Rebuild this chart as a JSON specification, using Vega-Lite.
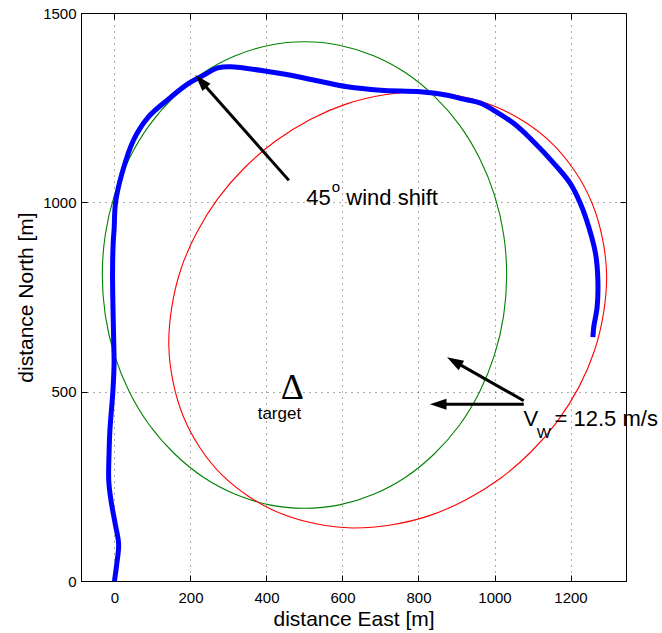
{
  "$schema": "https://vega.github.io/schema/vega-lite/v6.json",
  "width": 545,
  "height": 568,
  "autosize": {"type": "none"},
  "padding": {"left": 81, "top": 13, "right": 36, "bottom": 52},
  "background": "white",
  "config": {
    "view": {"stroke": "#000", "strokeWidth": 1},
    "axis": {
      "labelFont": "Liberation Sans", "labelFontSize": 15, "labelColor": "#000",
      "titleFont": "Liberation Sans", "titleFontSize": 21, "titleFontWeight": "normal", "titleColor": "#000",
      "domainColor": "#000", "tickColor": "#000", "tickSize": -6,
      "gridColor": "#000", "gridDash": [1, 5], "gridOpacity": 0.65
    }
  },
  "datasets": {
    "green": [
      {"i":0,"x":1032,"y":808},{"i":1,"x":1024,"y":915},{"i":2,"x":1000,"y":1019},{"i":3,"x":961,"y":1116},{"i":4,"x":908,"y":1204},{"i":5,"x":842,"y":1280},{"i":6,"x":766,"y":1342},{"i":7,"x":682,"y":1387},{"i":8,"x":592,"y":1415},{"i":9,"x":500,"y":1424},
      {"i":10,"x":408,"y":1415},{"i":11,"x":318,"y":1387},{"i":12,"x":234,"y":1342},{"i":13,"x":158,"y":1280},{"i":14,"x":92,"y":1204},{"i":15,"x":39,"y":1116},{"i":16,"x":0,"y":1019},{"i":17,"x":-24,"y":915},{"i":18,"x":-32,"y":808},
      {"i":19,"x":-24,"y":701},{"i":20,"x":0,"y":597},{"i":21,"x":39,"y":500},{"i":22,"x":92,"y":412},{"i":23,"x":158,"y":336},{"i":24,"x":234,"y":274},{"i":25,"x":318,"y":229},{"i":26,"x":408,"y":201},{"i":27,"x":500,"y":192},
      {"i":28,"x":592,"y":201},{"i":29,"x":682,"y":229},{"i":30,"x":766,"y":274},{"i":31,"x":842,"y":336},{"i":32,"x":908,"y":412},{"i":33,"x":961,"y":500},{"i":34,"x":1000,"y":597},{"i":35,"x":1024,"y":701}
    ],
    "red": [
      {"i":0,"x":1095,"y":340},{"i":1,"x":1165,"y":421},{"i":2,"x":1222,"y":512},{"i":3,"x":1263,"y":608},{"i":4,"x":1287,"y":708},{"i":5,"x":1295,"y":808},{"i":6,"x":1284,"y":905},{"i":7,"x":1257,"y":997},{"i":8,"x":1213,"y":1080},{"i":9,"x":1155,"y":1152},
      {"i":10,"x":1083,"y":1210},{"i":11,"x":1000,"y":1254},{"i":12,"x":908,"y":1281},{"i":13,"x":811,"y":1292},{"i":14,"x":711,"y":1284},{"i":15,"x":611,"y":1260},{"i":16,"x":515,"y":1219},{"i":17,"x":424,"y":1162},{"i":18,"x":343,"y":1092},
      {"i":19,"x":273,"y":1011},{"i":20,"x":217,"y":921},{"i":21,"x":175,"y":824},{"i":22,"x":151,"y":724},{"i":23,"x":143,"y":624},{"i":24,"x":154,"y":527},{"i":25,"x":181,"y":435},{"i":26,"x":225,"y":352},{"i":27,"x":283,"y":280},
      {"i":28,"x":355,"y":222},{"i":29,"x":438,"y":178},{"i":30,"x":530,"y":151},{"i":31,"x":627,"y":140},{"i":32,"x":727,"y":148},{"i":33,"x":827,"y":172},{"i":34,"x":924,"y":214},{"i":35,"x":1014,"y":270}
    ],
    "blue": [
      {"i":0,"x":0,"y":0},{"i":1,"x":6,"y":44},{"i":2,"x":11,"y":98},{"i":3,"x":2,"y":151},{"i":4,"x":-9,"y":212},{"i":5,"x":-15,"y":265},{"i":6,"x":-14,"y":344},{"i":7,"x":-12,"y":397},{"i":8,"x":-4,"y":503},{"i":9,"x":-1,"y":574},
      {"i":10,"x":-2,"y":635},{"i":11,"x":-5,"y":812},{"i":12,"x":-3,"y":899},{"i":13,"x":-1,"y":926},{"i":14,"x":3,"y":1000},{"i":15,"x":20,"y":1077},{"i":16,"x":50,"y":1164},{"i":17,"x":89,"y":1225},{"i":18,"x":139,"y":1270},{"i":19,"x":195,"y":1314},
      {"i":20,"x":235,"y":1336},{"i":21,"x":272,"y":1355},{"i":22,"x":305,"y":1358},{"i":23,"x":437,"y":1340},{"i":24,"x":524,"y":1323},{"i":25,"x":613,"y":1305},{"i":26,"x":700,"y":1296},{"i":27,"x":805,"y":1292},{"i":28,"x":876,"y":1283},{"i":29,"x":911,"y":1274},
      {"i":30,"x":963,"y":1262},{"i":31,"x":998,"y":1243},{"i":32,"x":1051,"y":1208},{"i":33,"x":1095,"y":1168},{"i":34,"x":1165,"y":1093},{"i":35,"x":1200,"y":1049},{"i":36,"x":1226,"y":997},{"i":37,"x":1248,"y":935},{"i":38,"x":1266,"y":864},{"i":39,"x":1272,"y":794},
      {"i":40,"x":1270,"y":723},{"i":41,"x":1261,"y":670},{"i":42,"x":1259,"y":644}
    ],
    "shafts": [
      {"x":459,"y":1058,"x2":233,"y2":1314},
      {"x":1077,"y":476,"x2":901,"y2":576},
      {"x":1077,"y":467,"x2":860,"y2":467}
    ]
  },
  "layer": [
    {
      "layer": [
        {
          "data": {"name": "green"},
          "mark": {"type": "line", "color": "#008000", "strokeWidth": 1.1, "interpolate": "cardinal-closed"},
          "encoding": {
            "x": {"field": "x", "type": "quantitative",
                  "scale": {"domain": [-88, 1346], "nice": false, "zero": false},
                  "axis": {"values": [0,200,400,600,800,1000,1200], "format": "d", "title": "distance East [m]", "labelPadding": 15, "titlePadding": 3}},
            "y": {"field": "y", "type": "quantitative",
                  "scale": {"domain": [0, 1500], "nice": false, "zero": false},
                  "axis": {"values": [0,500,1000,1500], "format": "d", "title": "distance North [m]", "labelPadding": 11, "titlePadding": 6}},
            "order": {"field": "i", "type": "quantitative"}
          }
        },
        {
          "data": {"name": "red"},
          "mark": {"type": "line", "color": "#ff0000", "strokeWidth": 1.1, "interpolate": "cardinal-closed"},
          "encoding": {
            "x": {"field": "x", "type": "quantitative"},
            "y": {"field": "y", "type": "quantitative"},
            "order": {"field": "i", "type": "quantitative"}
          }
        },
        {
          "data": {"name": "blue"},
          "mark": {"type": "line", "color": "#0000ff", "strokeWidth": 5, "strokeJoin": "round", "interpolate": "catmull-rom"},
          "encoding": {
            "x": {"field": "x", "type": "quantitative"},
            "y": {"field": "y", "type": "quantitative"},
            "order": {"field": "i", "type": "quantitative"}
          }
        },
        {
          "data": {"name": "shafts"},
          "mark": {"type": "rule", "color": "#000", "strokeWidth": 3},
          "encoding": {
            "x": {"field": "x", "type": "quantitative"},
            "y": {"field": "y", "type": "quantitative"},
            "x2": {"field": "x2"},
            "y2": {"field": "y2"}
          }
        },
        {
          "data": {"values": [{"x": 213, "y": 1336}]},
          "mark": {"type": "point", "shape": "M0,0L-0.33,1L0.33,1Z", "filled": true, "color": "#000", "opacity": 1, "size": 1100, "angle": 318},
          "encoding": {"x": {"field": "x", "type": "quantitative"}, "y": {"field": "y", "type": "quantitative"}}
        },
        {
          "data": {"values": [{"x": 875, "y": 591}]},
          "mark": {"type": "point", "shape": "M0,0L-0.33,1L0.33,1Z", "filled": true, "color": "#000", "opacity": 1, "size": 1100, "angle": 300},
          "encoding": {"x": {"field": "x", "type": "quantitative"}, "y": {"field": "y", "type": "quantitative"}}
        },
        {
          "data": {"values": [{"x": 830, "y": 467}]},
          "mark": {"type": "point", "shape": "M0,0L-0.33,1L0.33,1Z", "filled": true, "color": "#000", "opacity": 1, "size": 1100, "angle": 270},
          "encoding": {"x": {"field": "x", "type": "quantitative"}, "y": {"field": "y", "type": "quantitative"}}
        },
        {
          "data": {"values": [
            {"x": 505, "y": 992, "label": "45"},
            {"x": 610, "y": 992, "label": "wind shift"},
            {"x": 1076, "y": 410, "label": "V"},
            {"x": 1158, "y": 410, "label": "= 12.5 m/s"}
          ]},
          "mark": {"type": "text", "font": "Liberation Sans", "fontSize": 22, "align": "left", "baseline": "alphabetic", "color": "#000"},
          "encoding": {"x": {"field": "x", "type": "quantitative"}, "y": {"field": "y", "type": "quantitative"}, "text": {"field": "label"}}
        },
        {
          "data": {"values": [
            {"x": 572, "y": 1026, "label": "o"},
            {"x": 1111, "y": 378, "label": "W"}
          ]},
          "mark": {"type": "text", "font": "Liberation Sans", "fontSize": 15, "align": "left", "baseline": "alphabetic", "color": "#000"},
          "encoding": {"x": {"field": "x", "type": "quantitative"}, "y": {"field": "y", "type": "quantitative"}, "text": {"field": "label"}}
        },
        {
          "data": {"values": [{"x": 434, "y": 429, "label": "target"}]},
          "mark": {"type": "text", "font": "Liberation Sans", "fontSize": 17, "align": "center", "baseline": "alphabetic", "color": "#000"},
          "encoding": {"x": {"field": "x", "type": "quantitative"}, "y": {"field": "y", "type": "quantitative"}, "text": {"field": "label"}}
        },
        {
          "data": {"values": [{"x": 468, "y": 481, "label": "Δ"}]},
          "mark": {"type": "text", "font": "Liberation Serif", "fontSize": 36, "align": "center", "baseline": "alphabetic", "color": "#000"},
          "encoding": {"x": {"field": "x", "type": "quantitative"}, "y": {"field": "y", "type": "quantitative"}, "text": {"field": "label"}}
        }
      ]
    },
    {
      "data": {"values": [{"x": 0, "y": 0}]},
      "mark": {"type": "point", "opacity": 0},
      "encoding": {
        "x": {"field": "x", "type": "quantitative",
              "scale": {"domain": [-88, 1346], "nice": false, "zero": false},
              "axis": {"orient": "top", "values": [0,200,400,600,800,1000,1200], "labels": false, "title": null, "grid": false, "domain": false}},
        "y": {"field": "y", "type": "quantitative",
              "scale": {"domain": [0, 1500], "nice": false, "zero": false},
              "axis": {"orient": "right", "values": [0,500,1000,1500], "labels": false, "title": null, "grid": false, "domain": false}}
      }
    }
  ],
  "resolve": {"axis": {"x": "independent", "y": "independent"}}
}
